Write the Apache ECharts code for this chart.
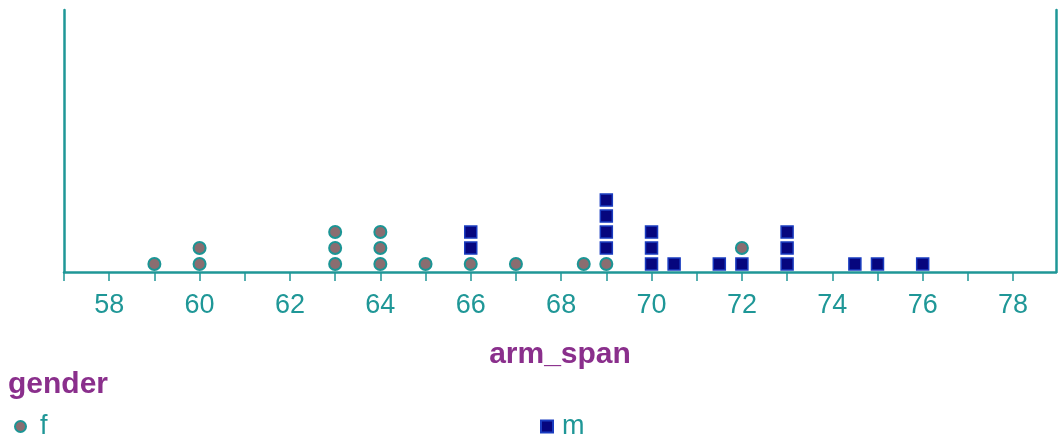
<!DOCTYPE html>
<html>
<head>
<meta charset="utf-8">
<script src="https://cdn.jsdelivr.net/npm/echarts@6/dist/echarts.min.js"></script>
<style>html,body{margin:0;padding:0;background:#fff}#c{width:1058px;height:439px}</style>
</head>
<body>
<div id="c"></div>
<script>
// Cases in the order they are stacked (dataset order)
const femaleSpans = [59, 60, 60, 63, 63, 63, 64, 64, 64, 65, 66, 67, 68.5, 69];
const maleSpans = [66, 66, 69, 69, 69, 69, 70, 70, 70, 70.5, 71.5, 72, 73, 73, 73, 74.5, 75, 76];
const femaleLate = [72]; // stacked after the male case at 72
const tickLabels = [58, 60, 62, 64, 66, 68, 70, 72, 74, 76, 78];
const xTitle = 'arm_span';
const legendTitle = 'gender';

const teal = '#1f9797';
const purple = '#8a2f8c';
const font = 'Liberation Sans, Arial, sans-serif';

// build stacked dot positions
const counts = {};
function stackPoint(v) {
  counts[v] = (counts[v] || 0) + 1;
  return [v, counts[v] - 0.5];
}
const fData = femaleSpans.map(stackPoint);
const mData = maleSpans.map(stackPoint);
femaleLate.forEach(v => fData.push(stackPoint(v)));

const chart = echarts.init(document.getElementById('c'));
chart.setOption({
  animation: false,
  backgroundColor: '#fff',
  grid: { left: 64, right: 2, top: 10, bottom: 167 },
  xAxis: {
    type: 'value', min: 57, max: 78.95, interval: 1,
    axisLine: { show: true, lineStyle: { color: teal, width: 2.5 } },
    axisTick: { show: true, length: 9, lineStyle: { color: teal, width: 1.5 } },
    splitLine: { show: false },
    axisLabel: {
      color: teal, fontSize: 27, fontFamily: font, margin: 20,
      showMaxLabel: false,
      formatter: v => tickLabels.includes(v) ? String(v) : ''
    },
    name: xTitle, nameLocation: 'middle', nameGap: 68,
    nameTextStyle: { color: purple, fontSize: 30, fontWeight: 'bold', fontFamily: font }
  },
  yAxis: [
    { type: 'value', min: 0, max: 16.4, position: 'left',
      axisLine: { show: true, onZero: false, lineStyle: { color: teal, width: 2.5 } },
      axisTick: { show: false }, axisLabel: { show: false }, splitLine: { show: false } },
    { type: 'value', min: 0, max: 16.4, position: 'right',
      axisLine: { show: true, onZero: false, lineStyle: { color: teal, width: 2.5 } },
      axisTick: { show: false }, axisLabel: { show: false }, splitLine: { show: false } }
  ],
  legend: [
    { data: ['f'], left: 9, top: 408, itemWidth: 11, itemHeight: 11,
      textStyle: { color: teal, fontSize: 27, fontFamily: font, padding: [0, 0, 0, 9] } },
    { data: ['m'], left: 535, top: 408, itemWidth: 12, itemHeight: 12,
      textStyle: { color: teal, fontSize: 27, fontFamily: font, padding: [0, 0, 0, 4] } }
  ],
  graphic: [
    { type: 'text', left: 8, top: 370,
      style: { text: legendTitle, fill: purple, fontSize: 30, fontWeight: 'bold', fontFamily: font } }
  ],
  series: [
    { name: 'f', type: 'scatter', data: fData, symbol: 'circle', symbolSize: 12,
      itemStyle: { color: '#8a6d70', borderColor: '#1b9595', borderWidth: 2, opacity: 1 } },
    { name: 'm', type: 'scatter', data: mData, symbol: 'rect', symbolSize: 12,
      itemStyle: { color: '#06067e', borderColor: '#1a3cc0', borderWidth: 1.5, opacity: 1 } }
  ]
});
</script>
</body>
</html>
